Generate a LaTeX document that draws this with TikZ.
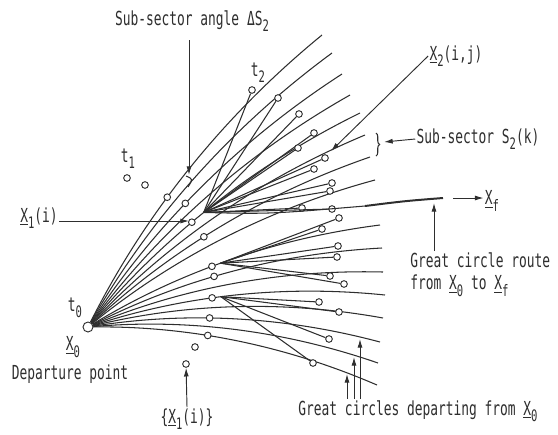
\documentclass[tikz,border=0pt]{standalone}
\usepackage{fontspec}
\setmainfont{DejaVu Sans Mono}
\usepackage{tikz}
\usetikzlibrary{positioning,arrows.meta,decorations.pathreplacing}
\definecolor{ink}{HTML}{2E2E2E}

\newcommand{\sub}[1]{\raisebox{-0.6ex}{\small #1}}
\newcommand{\uX}[1]{\underline{X}\sub{#1}}
\newcommand{\tall}[1]{\scalebox{1}[1.5]{#1}}
% great circle from X0 = (88,327) to (#1,#2), bending 12 deg each end
\newcommand{\gcurve}[3]{%
  \pgfmathsetmacro\gd{0.341*veclen(#1-88,327-#2)}%
  \pgfmathsetmacro\ga{atan2(327-#2,#1-88)}%
  \draw[gcline] (x0) .. controls ({88+\gd*cos(\ga+12)},{327-\gd*sin(\ga+12)})
    and ({#1+\gd*cos(\ga+168)},{#2-\gd*sin(\ga+168)}) .. (#1,#2) #3;}

\begin{document}
\begin{tikzpicture}[x=0.03cm, y=-0.03cm,
  font=\fontsize{11}{12.5}\selectfont, text=ink,
  gcline/.style={draw=ink, line width=0.9pt},
  route/.style={draw=ink, line width=1.7pt},
  tdot/.style={circle, draw=ink, fill=white, line width=0.8pt, inner sep=0pt, minimum size=2mm},
  pointer/.style={draw=ink, line width=0.8pt, -{Latex[length=2.6mm,width=1.5mm]}},
  lbl/.style={inner sep=1pt}
]
\useasboundingbox (0,0) rectangle (558,434);

% departure point
\node[tdot, minimum size=3mm] (x0) at (88,327) {};

% great circles from X0, top to bottom
\gcurve{322}{35}{node[tdot,pos=.40] (p1) {}}
\gcurve{332}{53}{}
\gcurve{342}{74}{node[tdot,pos=.433] (p2) {}}
\gcurve{350}{95}{}
\gcurve{360}{113}{node[tdot,pos=.42] (p3) {} coordinate[pos=.465] (fa)}
\gcurve{365}{135}{}
\gcurve{370}{157}{node[tdot,pos=.44] (p4) {}}
\gcurve{375}{180}{}
\gcurve{380}{225}{node[tdot,pos=.44] (p5) {} coordinate[pos=.47] (fb)}
\gcurve{382}{248}{node[tdot,pos=.44] (p6) {}}
\gcurve{383}{272}{}
\gcurve{385}{295}{node[tdot,pos=.42] (p7) {} coordinate[pos=.45] (fc)}
\gcurve{383}{318}{}
\gcurve{380}{342}{node[tdot,pos=.41] (p8) {}}
\gcurve{378}{363}{}
\gcurve{377}{385}{node[tdot,pos=.40] (p9) {}}

% t1 points off the drawn circles
\foreach \x/\y [count=\i] in {127/178, 145/185, 195/347, 186/364}
  \node[tdot] (q\i) at (\x,\y) {};

% sub-fans from X1(i) out to t2
\foreach \x/\y [count=\i] in {252/90, 278/98, 299/114, 314/133, 298/148, 325/158,
    314/169, 332/183, 330/191, 302/208, 332/209} {
  \node[tdot] (a\i) at (\x,\y) {};
  \draw[gcline] (fa) -- (a\i);
}
\foreach \x/\y [count=\i] in {339/218, 322/229, 338/246, 337/257, 330/276, 344/284} {
  \node[tdot] (b\i) at (\x,\y) {};
  \draw[gcline] (fb) -- (b\i);
}
\foreach \x/\y [count=\i] in {319/302, 339/312, 329/339, 313/363} {
  \node[tdot] (c\i) at (\x,\y) {};
  \draw[gcline] (fc) -- (c\i);
}

% great circle route to Xf
\coordinate (rm) at (365,206);
\coordinate (xf) at (443,198);
\draw[gcline] (fa) .. controls (270,214) .. (rm);
\draw[route] (rm) .. controls (405,201) .. (xf);

% labels
\node[lbl] (angl) at (192,21) {\tall{Sub-sector angle ΔS\sub{2}}};
\coordinate (angtail) at (189,40);
\coordinate (angtip) at (189,175);
\draw[pointer] (angtail) -- (angtip);
\draw[gcline] (186,176) .. controls (193,179) .. (188,187);

\node[lbl] (t2l) at (258,73) {\tall{t\sub{2}}};
\node[lbl] (t1l) at (128,159) {\tall{t\sub{1}}};
\node[lbl] (t0l) at (75,308) {\tall{t\sub{0}}};
\node[lbl] (x0l) at (73,347) {\tall{\uX{0}}};
\node[lbl] (dep) at (70,374) {\tall{Departure point}};

\node[lbl] (x1l) at (39,218) {\tall{\uX{1}(i)}};
\coordinate (x1tip) at (189,221);
\draw[pointer] (x1l.east |- x1tip) -- (x1tip);

\node[lbl] (setl) at (187,419) {\tall{\{\uX{1}(i)\}}};
\draw[pointer] (setl.north) -- (q4);

\node[lbl] (x2l) at (456,56) {\tall{\uX{2}(i,j)}};
\coordinate (x2tip) at (331,151);
\draw[pointer] (x2l.west) -- (x2tip);

\draw[gcline, decorate, decoration={brace, amplitude=3pt}] (376,133) -- (376,156);
\node[lbl] (ssl) at (478,139) {\tall{Sub-sector S\sub{2}(k)}};
\coordinate (sstip) at (384,142);
\draw[pointer] (ssl.west) -- (sstip);

\coordinate (xfa) at (453,198);
\node[lbl] (xfl) at (492,201) {\tall{\uX{f}}};
\draw[pointer] (xfa) -- (xfl.west |- xfa);

\node[lbl, anchor=north west] (rtl) at (409,251)
  {\tall{\begin{tabular}{@{}l@{}}Great circle route\\from \uX{0} to \uX{f}\end{tabular}}};
\coordinate (rttip) at (434,203);
\draw[pointer] (rtl.north west -| rttip) -- (rttip);

\node[lbl] (gcl) at (418,411) {\tall{Great circles departing from \uX{0}}};
\foreach \x/\y [count=\i] in {347/374, 354/357, 360/339} {
  \coordinate (g\i) at (\x,\y);
  \draw[pointer] (gcl.north -| g\i) -- (g\i);
}
\end{tikzpicture}
\end{document}
